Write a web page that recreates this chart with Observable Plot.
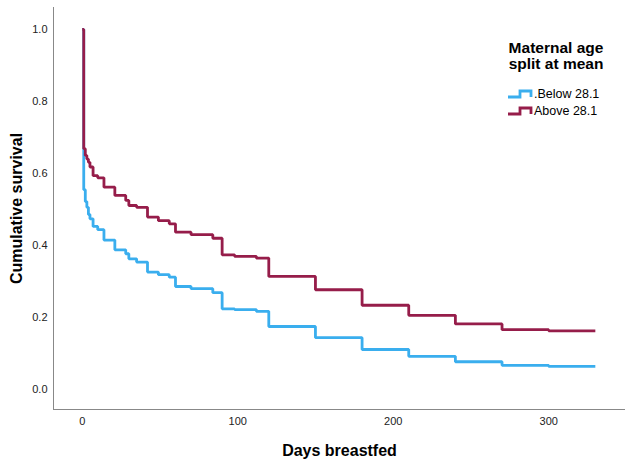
<!DOCTYPE html>
<html>
<head>
<meta charset="utf-8">
<script src="https://cdn.jsdelivr.net/npm/d3@7"></script>
<script src="https://cdn.jsdelivr.net/npm/@observablehq/plot@0.6"></script>
<style>
  body { margin: 0; background: #fff; font-family: Arial, "Liberation Sans", sans-serif; }
  #wrap { position: relative; width: 631px; height: 466px; }
  #legend { position: absolute; left: 490px; top: 40px; width: 130px; font-family: Arial, "Liberation Sans", sans-serif; }
  #legend .title { font-weight: bold; font-size: 15.5px; line-height: 16px; text-align: center; color: #000; margin-left: 2px; }
  #legend .item { display: flex; align-items: center; font-size: 12.5px; height: 17px; margin-left: 17px; color: #000; }
  #legend .item svg { margin-right: 1px; }
  svg [aria-label="x-axis label"] text, svg [aria-label="y-axis label"] text { font-weight: bold; font-size: 16px; fill: #000; }
  svg [aria-label="x-axis tick label"] text, svg [aria-label="y-axis tick label"] text { fill: #222; }
</style>
</head>
<body>
<div id="wrap"></div>
<script>
// Days at which the survival estimate changes (last value = end of follow-up)
const days = [0,1,2,3,4,5,7,10,14,21,28,30,35,42,49,56,60,70,84,90,98,112,120,150,180,210,240,270,300,330];
// Cumulative survival, maternal age below mean
const belowSurv = [1.0,0.555,0.522,0.506,0.486,0.474,0.453,0.444,0.415,0.388,0.377,0.363,0.354,0.326,0.319,0.312,0.286,0.280,0.269,0.224,0.222,0.217,0.175,0.144,0.111,0.092,0.077,0.067,0.064,0.064];
// Cumulative survival, maternal age above mean
const aboveSurv = [1.0,0.669,0.650,0.640,0.631,0.618,0.594,0.588,0.562,0.539,0.525,0.511,0.506,0.479,0.469,0.460,0.437,0.430,0.420,0.374,0.370,0.365,0.314,0.277,0.234,0.206,0.182,0.166,0.163,0.163];
const groups = [".Below 28.1", "Above 28.1"];
const colors = ["#3aaeee", "#961d4a"];
const xTicks = [0, 100, 200, 300];
const yTicks = [0, 0.2, 0.4, 0.6, 0.8, 1.0];

const rows = [];
days.forEach((d, i) => rows.push({day: d, surv: belowSurv[i], group: groups[0]}));
days.forEach((d, i) => rows.push({day: d, surv: aboveSurv[i], group: groups[1]}));

const chart = Plot.plot({
  width: 631,
  height: 466,
  marginLeft: 53,
  marginRight: 6,
  marginTop: 7,
  marginBottom: 57,
  style: {fontFamily: "Arial, 'Liberation Sans', sans-serif", fontSize: "11px", background: "#fff"},
  x: {domain: [-18.45, 349.4], ticks: xTicks, tickFormat: d3.format("d"), tickSize: 0, tickPadding: 8,
      label: "Days breastfed", labelAnchor: "center", labelArrow: "none", labelOffset: 46},
  y: {domain: [-0.0556, 1.061], ticks: yTicks, tickFormat: d3.format(".1f"), tickSize: 0, tickPadding: 6,
      label: "Cumulative survival", labelAnchor: "center", labelArrow: "none", labelOffset: 43},
  color: {domain: groups, range: colors},
  marks: [
    Plot.ruleX([-18.45], {stroke: "#888", strokeWidth: 1}),
    Plot.ruleY([-0.0556], {stroke: "#888", strokeWidth: 1}),
    Plot.line(rows, {x: "day", y: "surv", z: "group", stroke: "group", curve: "step-after", strokeWidth: 2.8, strokeLinejoin: "miter", strokeLinecap: "butt"})
  ]
});

const wrap = document.getElementById("wrap");
wrap.appendChild(chart);

const legend = document.createElement("div");
legend.id = "legend";
let html = '<div class="title">Maternal age<br>split at mean</div><div style="height:13px"></div>';
groups.forEach((g, i) => {
  html += '<div class="item"><svg width="26" height="12"><path d="M1,9 H13 V3 H24 V9" fill="none" stroke="' + colors[i] + '" stroke-width="2.8"/></svg>' + g + '</div>';
});
legend.innerHTML = html;
wrap.appendChild(legend);
</script>
</body>
</html>
